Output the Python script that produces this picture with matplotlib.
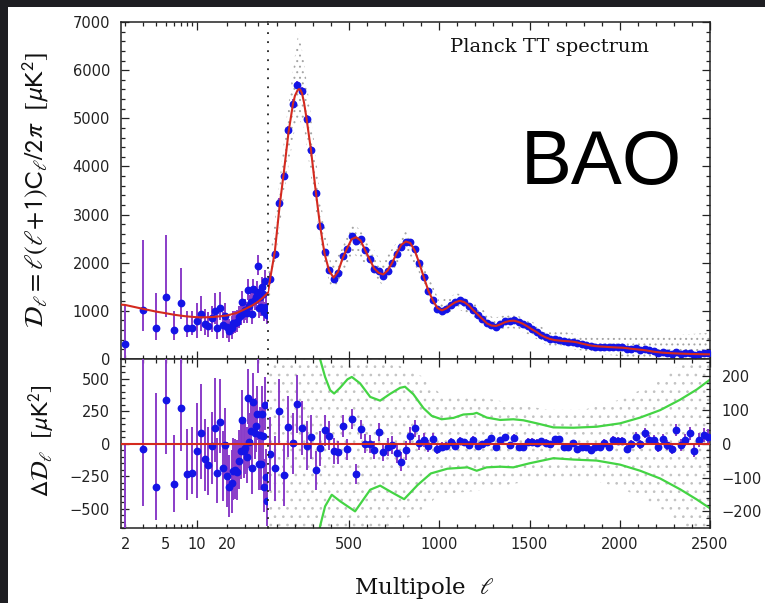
import matplotlib
matplotlib.use('Agg')
import matplotlib.pyplot as plt
from matplotlib.patches import Rectangle
from matplotlib.ticker import FixedLocator, MultipleLocator, NullFormatter, FuncFormatter

plt.rcParams['font.family'] = 'DejaVu Sans'
plt.rcParams['mathtext.fontset'] = 'stixsans'
plt.rcParams['hatch.color'] = '#9c9c9c'
plt.rcParams['hatch.linewidth'] = 0.7

# low multipoles (log part), one point per multipole
ell_low = [2, 3, 4, 5, 6, 7, 8, 9, 10, 11, 12, 13, 14, 15, 16, 17, 18, 19, 20, 21,
           22, 23, 24, 25, 26, 27, 28, 29, 30, 31, 32, 33, 34, 35, 36, 37, 38, 39, 40, 41,
           42, 43, 44, 45, 46, 47, 48, 49]
tt_low = [305, 1018, 651, 1288, 609, 1170, 651, 651, 796, 941, 734, 692, 845, 997, 651, 1052,
          706, 893, 672, 588, 637, 741, 755, 768, 865, 914, 1191, 949, 1018, 949, 1433, 1101,
          1191, 928, 1447, 1225, 1295, 1399, 1939, 1052, 1295, 1087, 1489, 1343, 976, 1627, 1087, 914]
res_low = [-817, -40, -334, 338, -311, 270, -234, -225, -55, 85, -120, -165, -20, 122, -225, 167,
           -184, -10, -245, -335, -300, -210, -205, -215, -130, -60, 180, -60, -30, -100, 350, 15,
           95, -190, 320, 80, 135, 225, 740, -160, 70, -160, 230, 60, -330, 300, -255, -440]
err_lo_low = [300, 440, 250, 420, 215, 330, 200, 160, 360, 360, 240, 230, 290, 260, 230, 240,
              260, 250, 240, 230, 230, 220, 220, 215, 215, 210, 210, 205, 205, 205, 200, 200,
              200, 200, 200, 200, 198, 198, 198, 198, 196, 196, 196, 196, 195, 195, 195, 195]
err_hi_low = [820, 1450, 720, 1280, 380, 720, 350, 350, 370, 370, 310, 290, 260, 380, 270, 330,
              280, 280, 260, 250, 250, 250, 240, 240, 235, 230, 230, 225, 225, 225, 220, 220,
              220, 220, 220, 218, 218, 218, 216, 216, 215, 215, 215, 214, 214, 214, 213, 213]

fit_low_ell = [1.8, 2, 3, 4, 5, 6, 7, 8, 10, 12, 15, 20, 25, 30, 35, 40, 45, 50]
fit_low_dl = [1130, 1122, 1040, 985, 950, 920, 900, 885, 868, 865, 875, 905, 960, 1040, 1110,
              1190, 1280, 1378]

# high multipoles (linear part), binned
ell_bin = [64, 89, 114, 139, 164, 189, 214, 239, 264, 289, 314, 339, 364, 389, 414, 439, 464,
           489, 514, 539, 564, 589, 614, 639, 664, 689, 714, 739, 764, 789, 814, 839, 864, 889,
           914, 939, 964, 989, 1014, 1039, 1064, 1089, 1114, 1139, 1164, 1189, 1214, 1239, 1264,
           1289, 1314, 1339, 1364, 1389, 1414, 1439, 1464, 1489, 1514, 1539, 1564, 1589, 1614,
           1639, 1664, 1689, 1714, 1739, 1764, 1789, 1814, 1839, 1864, 1889, 1914, 1939, 1964,
           1989, 2014, 2039, 2064, 2089, 2114, 2139, 2164, 2189, 2214, 2239, 2264, 2289, 2314,
           2339, 2364, 2389, 2414, 2439, 2464, 2489]
tt_bin = [1670, 2177, 3247, 3806, 4750, 5301, 5697, 5567, 4994, 4349, 3441, 2756, 2230, 1859,
          1669, 1788, 2143, 2284, 2562, 2441, 2502, 2260, 2069, 1861, 1824, 1730, 1831, 1996,
          2172, 2317, 2421, 2433, 2295, 1993, 1711, 1413, 1234, 1043, 1001, 1043, 1124, 1174,
          1218, 1184, 1107, 1022, 912, 828, 745, 711, 675, 731, 784, 786, 814, 759, 719, 681,
          621, 563, 502, 453, 413, 407, 397, 365, 359, 361, 328, 309, 289, 261, 259, 249, 256,
          239, 254, 247, 243, 210, 211, 224, 191, 215, 178, 162, 129, 144, 121, 104, 155, 107,
          119, 135, 82, 112, 124, 119]
res_bin = [-30, -73, 97, -94, 50, 1, 117, 47, -6, 19, -79, -14, 40, 24, -21, -26, 53, -16, 72,
           -89, 42, 0, -1, -19, 34, -25, -9, -4, -28, -53, -19, 23, 45, 3, 11, -7, 14, -17, -9,
           -7, 4, -6, 8, 4, -3, 12, -8, -2, 5, 16, -11, 11, 19, -4, 18, -11, -11, 6, 6, 3, 7, 3,
           -2, 14, 14, -9, -9, 1, -17, -11, -11, -19, -9, -11, 1, -9, 11, 9, 8, -15, -1, 21, -2,
           32, 11, 11, -11, 13, -4, -15, 40, -4, 11, 30, -21, 11, 25, 21]
err_bin = [110, 95, 95, 90, 90, 90, 85, 80, 72, 65, 58, 52, 46, 42, 38, 35, 33, 31, 30, 29,
           28, 28, 27, 27, 26, 26, 26, 27, 28, 29, 28, 26, 24, 22, 20, 18, 16, 15, 14, 13,
           12, 12, 12, 11, 11, 11, 11, 10, 10, 10, 10, 10, 10, 10, 10, 10, 10, 10, 10, 10,
           10, 10, 10, 10, 10, 10, 10, 10, 11, 11, 11, 11, 11, 11, 12, 12, 12, 12, 13, 13,
           13, 14, 14, 14, 15, 15, 15, 16, 16, 17, 17, 18, 18, 19, 19, 20, 20, 21]

fit_ell = [50, 64, 76, 89, 114, 139, 164, 189, 200, 214, 222, 230, 239, 250, 264, 289, 314, 339,
           364, 389, 414, 439, 464, 489, 514, 539, 564, 589, 614, 639, 664, 689, 714, 739, 764,
           789, 814, 839, 864, 889, 914, 939, 964, 989, 1014, 1039, 1064, 1089, 1114, 1139, 1164,
           1189, 1214, 1239, 1264, 1289, 1314, 1339, 1364, 1389, 1414, 1439, 1464, 1489, 1514,
           1539, 1564, 1589, 1614, 1639, 1664, 1689, 1714, 1739, 1764, 1789, 1814, 1839, 1864,
           1889, 1914, 1939, 1964, 1989, 2014, 2039, 2064, 2089, 2114, 2139, 2164, 2189, 2214,
           2239, 2264, 2289, 2314, 2339, 2364, 2389, 2414, 2439, 2464, 2489, 2500]
fit_dl = [1378, 1700, 1960, 2250, 3150, 3900, 4700, 5300, 5470, 5580, 5605, 5590, 5520, 5330,
          5000, 4330, 3520, 2770, 2190, 1835, 1690, 1814, 2090, 2300, 2490, 2530, 2460, 2260,
          2070, 1880, 1790, 1755, 1840, 2000, 2200, 2370, 2440, 2410, 2250, 1990, 1700, 1420,
          1220, 1060, 1010, 1050, 1120, 1180, 1210, 1180, 1110, 1010, 920, 830, 740, 695, 686,
          720, 765, 790, 796, 770, 730, 675, 615, 560, 495, 450, 415, 393, 383, 374, 368, 360,
          345, 320, 300, 280, 268, 260, 255, 248, 243, 238, 235, 225, 212, 203, 193, 183, 167,
          151, 140, 131, 125, 119, 115, 111, 108, 105, 103, 101, 99, 98, 97]

# spread of the unbinned spectrum (grey cloud)
cloud_ell = [50, 100, 150, 200, 220, 250, 300, 350, 400, 450, 520, 600, 680, 750, 820, 900,
             1000, 1100, 1200, 1300, 1400, 1500, 1600, 1700, 1800, 1900, 2000, 2100, 2200,
             2300, 2400, 2500]
cloud_lo = [1000, 2300, 3700, 4800, 5000, 4800, 3500, 2200, 1450, 1600, 2200, 1950, 1550, 1850,
            2250, 1700, 870, 1050, 840, 560, 650, 500, 280, 230, 170, 100, 60, 20, -60, -120,
            -170, -200]
cloud_hi = [1800, 3200, 4900, 6300, 6800, 6200, 4700, 3100, 2000, 2200, 2850, 2500, 2000, 2350,
            2700, 2100, 1200, 1370, 1150, 850, 950, 800, 600, 560, 480, 440, 450, 460, 480, 500,
            520, 540]
rcloud_ell = [50, 300, 500, 700, 900, 1000, 1200, 1400, 1600, 1800, 2000, 2200, 2400, 2500]
rcloud_lo = [-300, -300, -280, -250, -200, -150, -140, -120, -100, -100, -130, -180, -260, -300]
rcloud_hi = [300, 300, 280, 250, 200, 150, 140, 120, 100, 100, 130, 180, 260, 300]

# 1 sigma band of the unbinned residuals
sig_up_ell = [320, 339, 367, 395, 417, 450, 491, 515, 561, 617, 672, 727, 783, 810, 856, 912,
              958, 1013, 1078, 1133, 1188, 1207, 1263, 1337, 1410, 1466, 1540, 1632, 1743,
              1872, 2002, 2113, 2224, 2335, 2427, 2500]
sig_up = [330, 250, 197, 158, 148, 165, 190, 197, 178, 138, 127, 147, 165, 168, 146, 105, 82,
          72, 76, 86, 88, 91, 77, 70, 72, 69, 60, 48, 47, 50, 60, 77, 99, 130, 160, 189]
sig_dn_ell = [320, 339, 367, 404, 450, 533, 617, 672, 727, 805, 880, 953, 1045, 1156, 1207,
              1262, 1337, 1410, 1500, 1632, 1743, 1872, 2002, 2113, 2224, 2335, 2427, 2500]
sig_dn = [-330, -244, -185, -151, -170, -200, -136, -124, -141, -164, -122, -88, -74, -70, -80,
          -70, -68, -70, -58, -43, -47, -50, -62, -80, -103, -135, -165, -191]

BLUE = '#1414e6'
PURPLE = '#8a3cc8'
RED = '#d42a1f'
GREEN = '#44d444'
INK = '#222222'

fig = plt.figure(figsize=(7.65, 6.03), dpi=100)
fig.patch.set_facecolor('#1e1e22')
fig.add_artist(Rectangle((8 / 765, 0), 1, 1 - 7 / 603, transform=fig.transFigure,
                         facecolor='white', edgecolor='none', zorder=0))

x1, w1 = 121 / 765, (267.9 - 121) / 765
x2, w2 = 267.9 / 765, (710 - 267.9) / 765
yb, hb = 1 - 528.3 / 603, (528.3 - 359) / 603
yt, ht = 1 - 359 / 603, (359 - 22) / 603

ax_tl = fig.add_axes([x1, yt, w1, ht])
ax_tr = fig.add_axes([x2, yt, w2, ht])
ax_bl = fig.add_axes([x1, yb, w1, hb])
ax_br = fig.add_axes([x2, yb, w2, hb])

low_labels = {2: '2', 5: '5', 20: '20'}

for ax in (ax_tl, ax_tr, ax_bl, ax_br):
    for s in ax.spines.values():
        s.set_linewidth(1.1)
        s.set_color(INK)
    ax.tick_params(which='both', direction='in', top=True, bottom=True, left=True, right=True,
                   colors=INK, labelsize=10.5, width=0.9)
    ax.tick_params(which='major', length=5.5)
    ax.tick_params(which='minor', length=3)

for ax in (ax_tl, ax_bl):
    ax.set_xscale('log')
    ax.set_xlim(1.815, 50)
    ax.xaxis.set_major_locator(FixedLocator([10]))
    ax.xaxis.set_minor_locator(FixedLocator([2, 3, 4, 5, 6, 7, 8, 9, 20, 30, 40]))
    ax.spines['right'].set_visible(False)
    ax.tick_params(which='both', right=False)
    ax.tick_params(axis='y', pad=8)

for ax in (ax_tr, ax_br):
    ax.set_xlim(50, 2500)
    ax.xaxis.set_major_locator(MultipleLocator(500))
    ax.xaxis.set_minor_locator(MultipleLocator(100))
    ax.spines['left'].set_visible(False)
    ax.tick_params(which='both', left=False)
    ax.axvline(50, color=INK, ls=(0, (1, 4)), lw=1.3, clip_on=False, zorder=6)

for ax in (ax_tl, ax_tr):
    ax.set_ylim(0, 7000)
    ax.yaxis.set_major_locator(MultipleLocator(1000))
    ax.yaxis.set_minor_locator(MultipleLocator(200))
    ax.xaxis.set_major_formatter(NullFormatter())
    ax.xaxis.set_minor_formatter(NullFormatter())
ax_tr.yaxis.set_major_formatter(NullFormatter())

ax_bl.set_ylim(-650, 650)
ax_bl.yaxis.set_major_locator(MultipleLocator(250))
ax_bl.yaxis.set_minor_locator(MultipleLocator(50))
ax_bl.xaxis.set_major_formatter(FuncFormatter(lambda v, p: '10'))
ax_bl.xaxis.set_minor_formatter(FuncFormatter(lambda v, p: low_labels.get(int(round(v)), '')))
ax_bl.tick_params(axis='x', which='both', pad=6.5)

ax_br.set_ylim(-250, 250)
ax_br.yaxis.set_major_locator(MultipleLocator(100))
ax_br.yaxis.set_minor_locator(MultipleLocator(20))
ax_br.tick_params(axis='y', labelleft=False, labelright=True, pad=8.5)
ax_br.tick_params(axis='x', which='both', pad=6.5)

eb = dict(fmt='o', color=BLUE, ecolor=PURPLE, elinewidth=1.4, ms=4.6, capsize=0, zorder=3)

# upper panels
ax_tl.errorbar(ell_low, tt_low, yerr=[err_lo_low, err_hi_low], **eb)
ax_tl.plot(fit_low_ell, fit_low_dl, color=RED, lw=1.5, zorder=4)

ax_tr.fill_between(cloud_ell, cloud_lo, cloud_hi, facecolor='none', edgecolor='#a4a4a4',
                   hatch='...', linewidth=0, zorder=1)
ax_tr.errorbar(ell_bin, tt_bin, yerr=err_bin, **eb)
ax_tr.plot(fit_ell, fit_dl, color=RED, lw=1.5, zorder=4)

# residual panels
ax_bl.errorbar(ell_low, res_low, yerr=[err_lo_low, err_hi_low], **eb)
ax_bl.axhline(0, color=RED, lw=1.5, zorder=4)

ax_br.fill_between(rcloud_ell, rcloud_lo, rcloud_hi, facecolor='none', edgecolor='#c2c2c2',
                   hatch='..', linewidth=0, zorder=1)
ax_br.plot(sig_up_ell, sig_up, color=GREEN, lw=1.6, zorder=2)
ax_br.plot(sig_dn_ell, sig_dn, color=GREEN, lw=1.6, zorder=2)
ax_br.errorbar(ell_bin, res_bin, yerr=err_bin, **eb)
ax_br.axhline(0, color=RED, lw=1.5, zorder=4)

# labels
fig.text(36 / 765, 1 - 190 / 603,
         r'$\mathcal{D}_\ell = \ell(\ell\!+\!1)\mathrm{C}_\ell/2\pi\ \ [\mu\mathrm{K}^2]$',
         rotation=90, ha='center', va='center', fontsize=19, color='#111111')
fig.text(42 / 765, 1 - 441 / 603, r'$\Delta\mathcal{D}_\ell\ \ [\mu\mathrm{K}^2]$',
         rotation=90, ha='center', va='center', fontsize=17.5, color='#111111')
fig.text(424 / 765, 1 - 588 / 603, r'Multipole  $\ell$', family='DejaVu Serif',
         ha='center', va='center', fontsize=16.5, color='#111111')
fig.text(550 / 765, 1 - 47 / 603, 'Planck TT spectrum', family='DejaVu Serif',
         ha='center', va='center', fontsize=14, color='#111111')
fig.text(521 / 765, 1 - 184 / 603, 'BAO', family='Liberation Sans', ha='left',
         va='baseline', fontsize=55, color='black')

fig.savefig('out.png', dpi=100, facecolor=fig.get_facecolor())
